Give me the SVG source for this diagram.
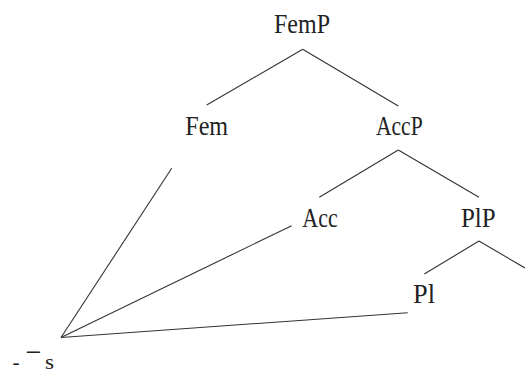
<svg xmlns="http://www.w3.org/2000/svg" width="525" height="374" viewBox="0 0 525 374">
<style>
.t{font-family:"Liberation Serif","DejaVu Serif","Times New Roman",serif;font-size:27px;fill:#222;text-anchor:middle}
.b{font-size:22px}
.e{stroke:#333;stroke-width:1.1;fill:none}
</style>
<rect width="525" height="374" fill="#fff"/>
<g id="connectors">
<line class="e" x1="302.7" y1="49.3" x2="206.7" y2="105"/>
<line class="e" x1="302.7" y1="49.3" x2="398.3" y2="106"/>
<line class="e" x1="398.3" y1="150" x2="319.3" y2="197.3"/>
<line class="e" x1="398.3" y1="150" x2="479" y2="197.3"/>
<line class="e" x1="479" y1="241" x2="424.3" y2="274"/>
<line class="e" x1="479" y1="241" x2="525" y2="268"/>
<line class="e" x1="61" y1="337.5" x2="171.7" y2="168.3"/>
<line class="e" x1="61" y1="337.5" x2="291.7" y2="225.7"/>
<line class="e" x1="61" y1="337.5" x2="407.7" y2="312.7"/>
</g>
<g id="FemP"><text class="t" x="302" y="33.3" textLength="56" lengthAdjust="spacingAndGlyphs">FemP</text></g>
<g id="Fem"><text class="t" x="206.7" y="135" textLength="43" lengthAdjust="spacingAndGlyphs">Fem</text></g>
<g id="AccP"><text class="t" x="399.3" y="135" textLength="46.7" lengthAdjust="spacingAndGlyphs">AccP</text></g>
<g id="Acc"><text class="t" x="320" y="227.3" textLength="35.4" lengthAdjust="spacingAndGlyphs">Acc</text></g>
<g id="PlP"><text class="t" x="478.3" y="226.7" textLength="34.7" lengthAdjust="spacingAndGlyphs">PlP</text></g>
<g id="Pl"><text class="t" x="424" y="302.7" textLength="22" lengthAdjust="spacingAndGlyphs">Pl</text></g>
<g id="s-node">
<text class="t b" x="16" y="369" textLength="7" lengthAdjust="spacingAndGlyphs">-</text>
<text class="t b" x="33.3" y="357" textLength="16.7" lengthAdjust="spacingAndGlyphs">-</text>
<text class="t b" x="49.5" y="369" textLength="9" lengthAdjust="spacingAndGlyphs">s</text>
</g>
</svg>
